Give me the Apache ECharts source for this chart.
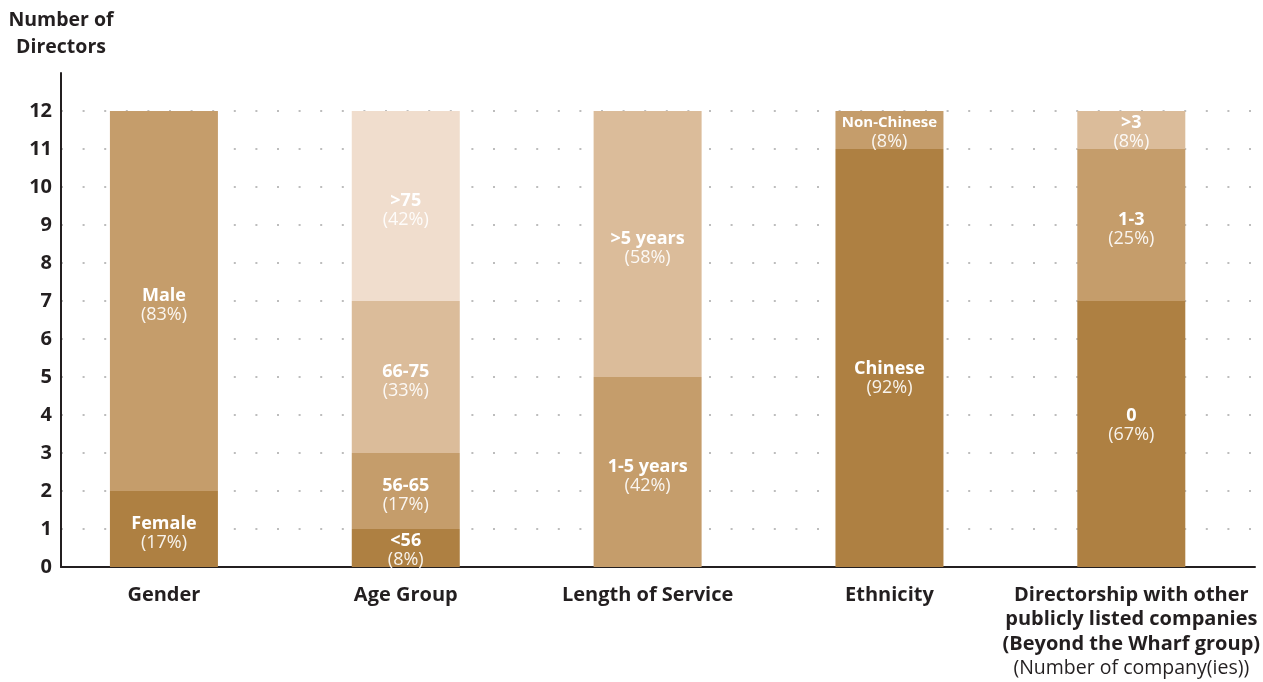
<!DOCTYPE html>
<html>
<head>
<meta charset="utf-8">
<script src="https://cdn.jsdelivr.net/npm/echarts@6/dist/echarts.min.js"></script>
<style>
  html, body { margin: 0; padding: 0; background: #fff; }
  #chart { width: 1263px; height: 682px; }
</style>
</head>
<body>
<div id="chart"></div>
<script>
// ---------- DATA ----------
const categories = [
  'Gender',
  'Age Group',
  'Length of Service',
  'Ethnicity',
  'Directorship with other\npublicly listed companies\n(Beyond the Wharf group)'
];
const lastCategoryNote = '(Number of company(ies))';
const segmentNames = [
  ['Female', 'Male'],
  ['<56', '56-65', '66-75', '>75'],
  ['1-5 years', '>5 years'],
  ['Chinese', 'Non-Chinese'],
  ['0', '1-3', '>3']
];
const segmentValues = [
  [2, 10],
  [1, 2, 4, 5],
  [5, 7],
  [11, 1],
  [7, 4, 1]
];
const segmentPercents = [
  ['17%', '83%'],
  ['8%', '17%', '33%', '42%'],
  ['42%', '58%'],
  ['92%', '8%'],
  ['67%', '25%', '8%']
];
const yAxisTitle = 'Number of\nDirectors';
const yMin = 0, yMax = 13, yStep = 1, yLastLabel = 12;

// ---------- STYLE ----------
const shades = ['#AE8042', '#C59D6B', '#DBBC9A', '#F0DDCD'];
const segmentShade = [[0, 1], [0, 1, 2, 3], [1, 2], [0, 1], [0, 1, 2]];
const defaultLabelOffset = [0, 4];
const labelOffsets = { '3-0': [0, 20], '4-0': [0, -9], '3-1': [0, 2], '4-2': [0, 2], '1-0': [0, 2] };
const condensedLabels = { '3-1': true };
const FONT = 'Open Sans';
const INK = '#231f20';

const maxLevels = Math.max(...segmentValues.map(a => a.length));
const series = [];
for (let k = 0; k < maxLevels; k++) {
  series.push({
    type: 'bar',
    stack: 'all',
    xAxisIndex: 0,
    yAxisIndex: 0,
    barWidth: 108,
    data: categories.map((c, i) => {
      const v = segmentValues[i][k];
      if (v === undefined) return '-';
      const key = i + '-' + k;
      const off = labelOffsets[key] || defaultLabelOffset;
      const nameStyle = condensedLabels[key] ? 'nc' : 'n';
      return {
        value: v,
        itemStyle: { color: shades[segmentShade[i][k]] },
        label: {
          show: true,
          position: 'inside',
          offset: off,
          formatter: '{' + nameStyle + '|' + segmentNames[i][k] + '}\n{p|(' + segmentPercents[i][k] + ')}'
        }
      };
    }),
    label: {
      show: true,
      position: 'inside',
      rich: {
        n: { fontFamily: FONT, fontWeight: 'bold', fontSize: 18, color: '#fff', lineHeight: 19 },
        nc: { fontFamily: FONT, fontWeight: 'bold', fontSize: 15, color: '#fff', lineHeight: 19 },
        p: { fontFamily: FONT, fontWeight: 'normal', fontSize: 18, color: 'rgba(255,255,255,0.9)', lineHeight: 19 }
      }
    },
    emphasis: { disabled: true }
  });
}

const chart = echarts.init(document.getElementById('chart'), null, { renderer: 'canvas' });
chart.setOption({
  animation: false,
  backgroundColor: '#fff',
  grid: [
    { left: 43, right: 10, top: 73, bottom: 115 },
    { left: 61, right: 8, top: 73, bottom: 115 }
  ],
  xAxis: [
    {
      type: 'category',
      gridIndex: 0,
      data: categories,
      axisLine: { show: false },
      axisTick: { show: false },
      axisLabel: {
        interval: 0,
        margin: 16,
        color: INK,
        fontFamily: FONT,
        fontWeight: 'bold',
        fontSize: 20,
        lineHeight: 24.5,
        formatter: (val, idx) => idx === categories.length - 1
          ? val + '\n{s|' + lastCategoryNote + '}'
          : val,
        rich: {
          s: { fontFamily: FONT, fontWeight: 'normal', fontSize: 19.5, color: INK, lineHeight: 24.5 }
        }
      }
    },
    {
      type: 'value',
      gridIndex: 1,
      min: 0, max: 1,
      axisLine: { show: true, lineStyle: { color: INK, width: 2 } },
      axisTick: { show: false },
      axisLabel: { show: false },
      splitLine: { show: false }
    }
  ],
  yAxis: [
    {
      type: 'value',
      gridIndex: 0,
      min: yMin, max: yMax, interval: yStep,
      show: false
    },
    {
      type: 'value',
      gridIndex: 1,
      min: yMin, max: yMax, interval: yStep,
      name: yAxisTitle,
      nameLocation: 'end',
      nameGap: 12,
      nameTextStyle: { color: INK, fontFamily: FONT, fontWeight: 'bold', fontSize: 19.5, lineHeight: 27, align: 'center' },
      axisLine: { show: true, lineStyle: { color: INK, width: 2 } },
      axisTick: { show: false },
      axisLabel: {
        margin: 9,
        color: INK,
        fontFamily: FONT,
        fontWeight: 'bold',
        fontSize: 20,
        formatter: v => v > yLastLabel ? '' : String(v)
      },
      splitLine: {
        show: true,
        showMinLine: false,
        showMaxLine: false,
        lineStyle: { color: '#bdbdbd', width: 2, type: [2, 19.6] }
      }
    }
  ],
  series: series
});
</script>
</body>
</html>
